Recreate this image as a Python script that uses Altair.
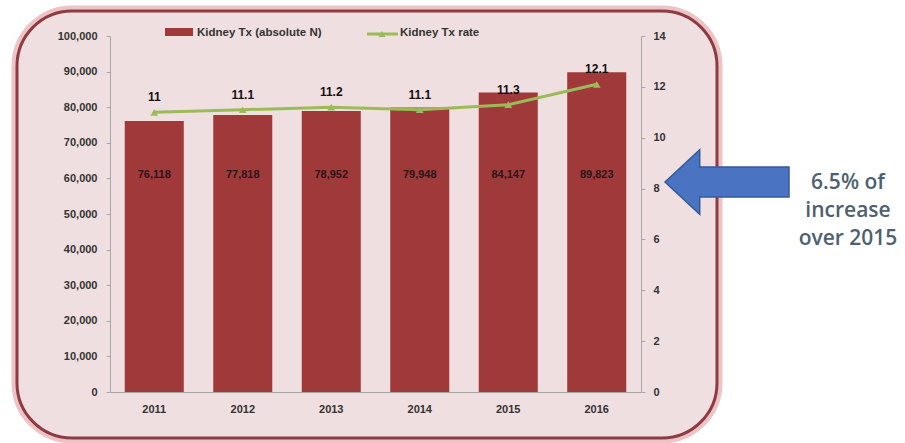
import altair as alt
import pandas as pd

years = ["2011", "2012", "2013", "2014", "2015", "2016"]
kidney_tx = [76118, 77818, 78952, 79948, 84147, 89823]
tx_rate = [11, 11.1, 11.2, 11.1, 11.3, 12.1]
left_ticks = list(range(0, 100001, 10000))
right_ticks = list(range(0, 15, 2))
bar_label = "Kidney Tx (absolute N)"
line_label = "Kidney Tx rate"
note_lines = ["6.5% of", "increase", "over 2015"]

df = pd.DataFrame({"year": years, "kidney": kidney_tx, "rate": tx_rate})
one = pd.DataFrame({"a": [0]})

BAR = "#a03a3a"
GREEN = "#9bbb59"
AXIS = "#a6a6a6"
LBL = "#333333"
FONT = "Liberation Sans"

x_enc = alt.X("year:N", title=None, sort=years,
              scale=alt.Scale(paddingInner=0.333, paddingOuter=0.1667),
              axis=alt.Axis(labelAngle=0, ticks=False, domainColor=AXIS, domainWidth=1, zindex=1,
                            labelFont=FONT, labelFontSize=11, labelFontWeight="bold",
                            labelColor=LBL, labelPadding=11))

# frame
halo = alt.Chart(one).mark_rect(cornerRadius=57, fill="#f3dede", stroke="#ecc4c6", strokeWidth=7).encode(
    x=alt.value(-95), x2=alt.value(609), y=alt.value(-27), y2=alt.value(404))
frame = alt.Chart(one).mark_rect(cornerRadius=55, fill="#efdfe0", stroke="#8e3b42", strokeWidth=3).encode(
    x=alt.value(-93), x2=alt.value(607), y=alt.value(-25), y2=alt.value(402))

left_axis = alt.Axis(values=left_ticks, labelExpr="format(datum.value, ',')", grid=False,
                     orient="left", zindex=1,
                     domainColor=AXIS, tickColor=AXIS, tickSize=4,
                     labelFont=FONT, labelFontSize=11, labelFontWeight="bold",
                     labelColor=LBL, labelPadding=9)
left_scale = alt.Scale(domain=[0, 100000], nice=False)
yl = alt.Y("kidney:Q", title=None, scale=left_scale, axis=left_axis)
bars = alt.Chart(df).mark_bar(color=BAR).encode(x=x_enc, y=yl)
bar_text = alt.Chart(df).mark_text(font=FONT, fontSize=11, fontWeight="bold", color="#2a1616",
                                   baseline="middle").encode(
    x=alt.X("year:N", sort=years),
    y=alt.YDatum(61000, type="quantitative", title=None, scale=left_scale, axis=left_axis),
    text=alt.Text("kidney:Q", format=","))
bar_group = alt.layer(bars, bar_text)

yr = alt.Y("rate:Q", title=None,
           scale=alt.Scale(domain=[0, 14], nice=False),
           axis=alt.Axis(values=right_ticks, grid=False, orient="right", zindex=1,
                         domainColor=AXIS, tickColor=AXIS, tickSize=4,
                         labelFont=FONT, labelFontSize=11, labelFontWeight="bold",
                         labelColor=LBL, labelPadding=8))
line = alt.Chart(df).mark_line(color=GREEN, strokeWidth=3,
                               point=alt.OverlayMarkDef(shape="triangle-up", size=60, filled=True,
                                                        color=GREEN)).encode(
    x=alt.X("year:N", sort=years), y=yr)
line_text = alt.Chart(df).mark_text(font=FONT, fontSize=12, fontWeight="bold", color="#111111",
                                    dy=-15).encode(
    x=alt.X("year:N", sort=years), y=alt.Y("rate:Q"), text=alt.Text("rate:Q"))
line_group = alt.layer(line, line_text)

# legend (decoration)
leg_rect = alt.Chart(one).mark_rect(color=BAR).encode(
    x=alt.value(55), x2=alt.value(83), y=alt.value(-8), y2=alt.value(0))
leg_t1 = alt.Chart(one).mark_text(text=bar_label, font=FONT, fontSize=11.5, fontWeight="bold",
                                  color=LBL, align="left", baseline="middle").encode(
    x=alt.value(87), y=alt.value(-3))
leg_line = alt.Chart(one).mark_rule(color=GREEN, strokeWidth=3).encode(
    x=alt.value(257), x2=alt.value(288), y=alt.value(-2))
leg_pt = alt.Chart(one).mark_point(shape="triangle-up", size=50, filled=True, color=GREEN, opacity=1).encode(
    x=alt.value(272), y=alt.value(-2))
leg_t2 = alt.Chart(one).mark_text(text=line_label, font=FONT, fontSize=11.5, fontWeight="bold",
                                  color=LBL, align="left", baseline="middle").encode(
    x=alt.value(290), y=alt.value(-3))

# arrow and note
arrow_path = "M -1 0 L -0.44 -0.52 L -0.44 -0.24 L 1 -0.24 L 1 0.24 L -0.44 0.24 L -0.44 0.52 Z"
arrow = alt.Chart(one).mark_point(shape=arrow_path, size=15376, filled=True, fill="#4a73c2",
                                  stroke="#355a9a", strokeWidth=1.5, opacity=1).encode(
    x=alt.value(617), y=alt.value(146))
note = alt.Chart(one).mark_text(text=note_lines, font="Open Sans", fontSize=21, fontWeight=600,
                                color="#4d5f70", align="center", baseline="middle", lineHeight=28).encode(
    x=alt.value(738), y=alt.value(147))

chart = alt.layer(
    halo, frame, bar_group, line_group, leg_rect, leg_t1, leg_line, leg_pt, leg_t2, arrow, note
).resolve_scale(y="independent").properties(
    width=531, height=356,
    autosize=alt.AutoSizeParams(type="none"),
    padding={"left": 110, "top": 36, "right": 264, "bottom": 51},
    background="white",
).configure_view(strokeWidth=0)

chart.save("out.html", embed_options={"renderer": "svg", "actions": False})
